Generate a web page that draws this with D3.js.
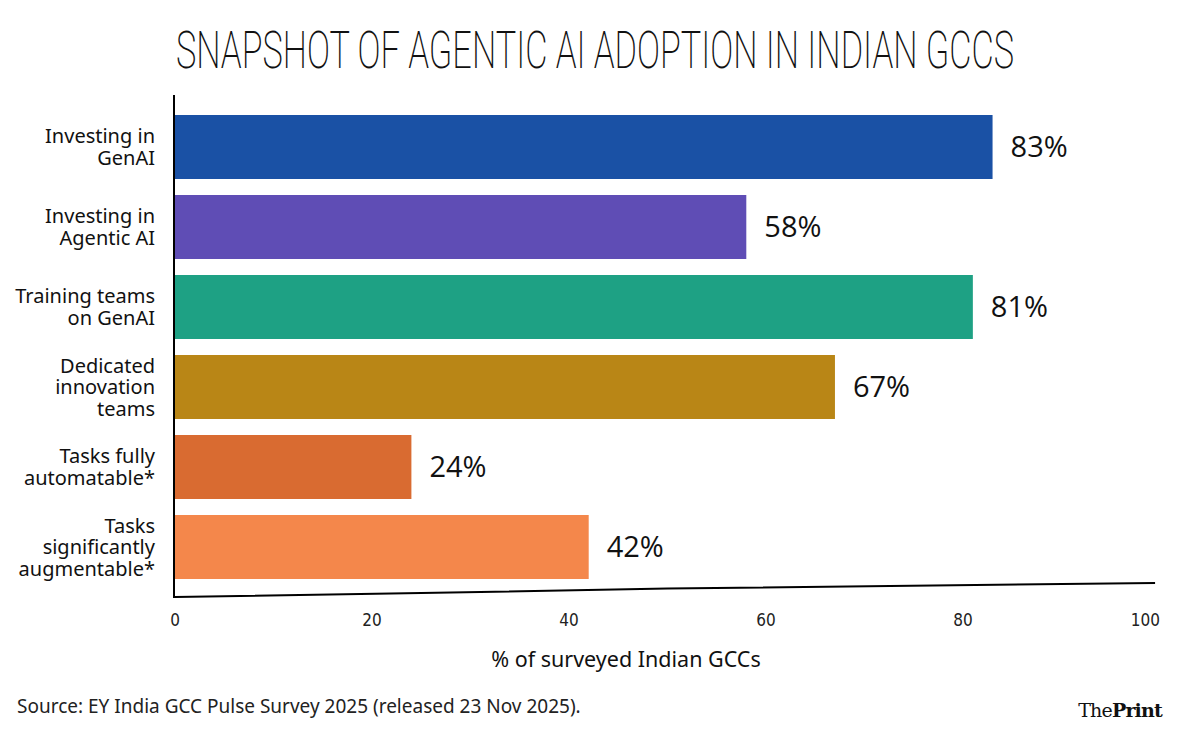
<!DOCTYPE html>
<html><head><meta charset="utf-8">
<script src="https://cdn.jsdelivr.net/npm/d3@7"></script>
<style>
body{margin:0;background:#fff;}
svg{display:block;}
</style></head>
<body>
<svg id="c" width="1190" height="738"></svg>
<script>
const categories = [
  ["Investing in", "GenAI"],
  ["Investing in", "Agentic AI"],
  ["Training teams", "on GenAI"],
  ["Dedicated", "innovation", "teams"],
  ["Tasks fully", "automatable*"],
  ["Tasks", "significantly", "augmentable*"]
];
const values = [83, 58, 81, 67, 24, 42];
const colors = ["#1a51a5", "#5f4db5", "#1ea184", "#b98616", "#d96b31", "#f4874b"];
const xTicks = [0, 20, 40, 60, 80, 100];
const titleText = "SNAPSHOT OF AGENTIC AI ADOPTION IN INDIAN GCCS";
const axisTitle = "% of surveyed Indian GCCs";
const sourceText = "Source: EY India GCC Pulse Survey 2025 (released 23 Nov 2025).";

const svg = d3.select("#c");
const x = d3.scaleLinear().domain([0, 100]).range([175, 1160]);
const y = d3.scaleBand().domain(d3.range(values.length)).range([107, 587]).paddingInner(0.2).paddingOuter(0.1);

// title
svg.append("text").attr("x", 176).attr("y", 68)
  .attr("font-family", "Roboto, 'DejaVu Sans Condensed', sans-serif")
  .attr("font-weight", 200).attr("font-size", 52)
  .attr("textLength", 838).attr("lengthAdjust", "spacingAndGlyphs")
  .attr("fill", "#111").text(titleText);

// bars
svg.selectAll("rect.bar").data(values).join("rect").attr("class", "bar")
  .attr("x", x(0)).attr("y", (d, i) => y(i))
  .attr("width", d => x(d) - x(0)).attr("height", y.bandwidth())
  .attr("fill", (d, i) => colors[i]);

// value labels
svg.selectAll("text.val").data(values).join("text").attr("class", "val")
  .attr("x", d => x(d) + 18).attr("y", (d, i) => y(i) + y.bandwidth() / 2)
  .attr("dy", "0.36em")
  .attr("font-family", "'Open Sans', 'Noto Sans', sans-serif")
  .attr("font-size", 29).attr("fill", "#111")
  .text(d => d + "%");

// category labels
const lh = 21.5;
categories.forEach((lines, i) => {
  const cy = y(i) + y.bandwidth() / 2;
  const t = svg.append("text").attr("text-anchor", "end")
    .attr("font-family", "'Noto Sans', 'Open Sans', sans-serif")
    .attr("font-size", 20).attr("fill", "#111");
  lines.forEach((ln, j) => {
    t.append("tspan").attr("x", 155)
      .attr("y", cy + (j - (lines.length - 1) / 2) * lh)
      .attr("dy", "0.35em").text(ln);
  });
});

// y axis line
svg.append("line").attr("x1", 174).attr("x2", 174).attr("y1", 95).attr("y2", 598)
  .attr("stroke", "#000").attr("stroke-width", 2);

// bottom baseline (slanted as in source)
svg.append("path")
  .attr("d", `M${x(0)},597 L${x(25)},593 L${x(50)},588.5 L${x(99.5)},583`)
  .attr("fill", "none").attr("stroke", "#000").attr("stroke-width", 2);

// x tick labels
svg.selectAll("text.xt").data(xTicks).join("text").attr("class", "xt")
  .attr("x", d => x(d)).attr("y", 626)
  .attr("text-anchor", (d, i) => i === xTicks.length - 1 ? "end" : "middle")
  .attr("font-family", "'DejaVu Sans Condensed', 'Liberation Sans Narrow', sans-serif")
  .attr("font-size", 17).attr("fill", "#222")
  .text(d => d);

// axis title
svg.append("text").attr("x", 626).attr("y", 667).attr("text-anchor", "middle")
  .attr("font-family", "'Noto Sans', 'Open Sans', sans-serif")
  .attr("font-size", 21.5).attr("fill", "#111").text(axisTitle);

// source
svg.append("text").attr("x", 17).attr("y", 713)
  .attr("font-family", "'Noto Sans', 'Open Sans', sans-serif")
  .attr("font-size", 19).attr("fill", "#222").text(sourceText);

// logo
const logo = svg.append("text").attr("x", 1162).attr("y", 717).attr("text-anchor", "end")
  .attr("font-family", "'DejaVu Serif', 'Liberation Serif', serif")
  .attr("font-size", 19).attr("fill", "#111").attr("letter-spacing", -0.8);
logo.append("tspan").text("The");
logo.append("tspan").attr("font-weight", "bold").text("Print");
</script>
</body></html>
